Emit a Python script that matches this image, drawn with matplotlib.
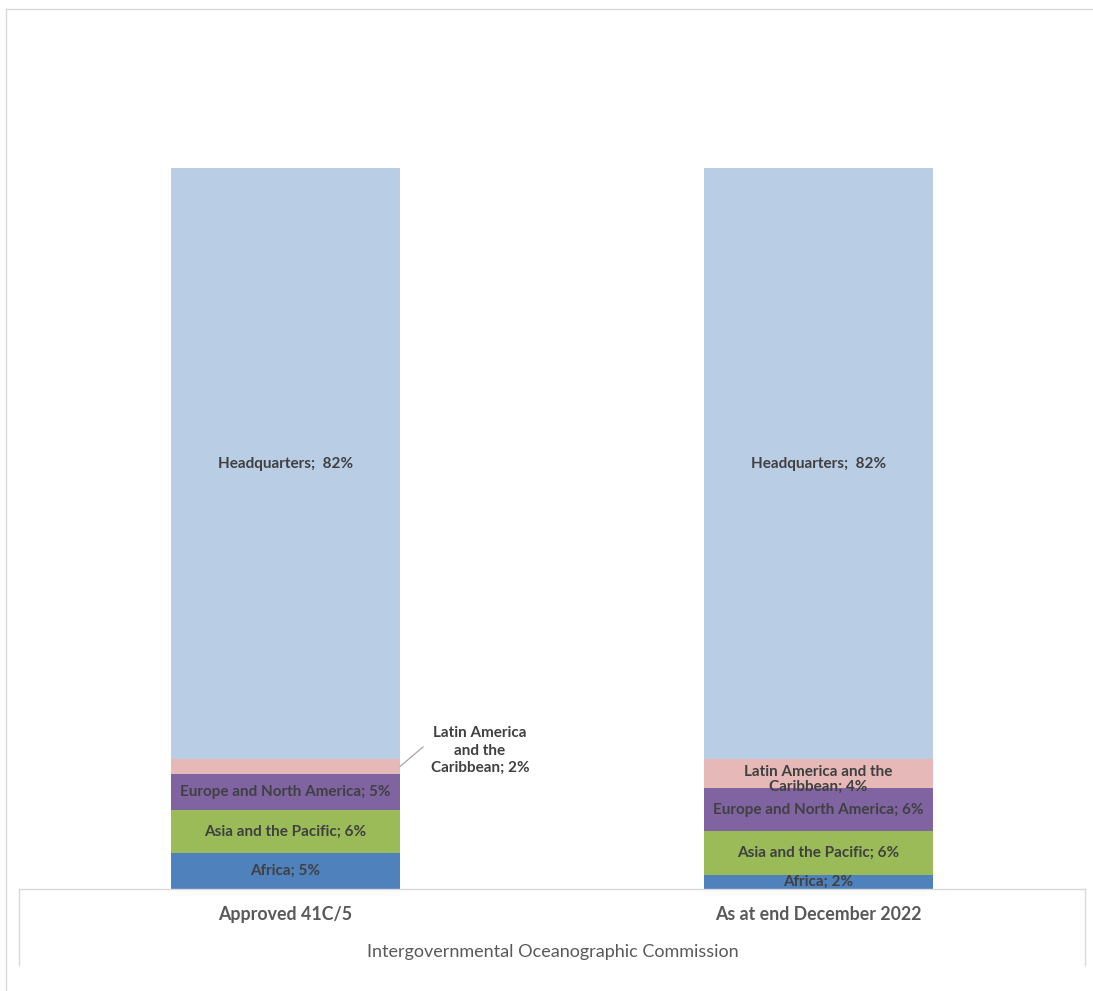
import numpy as np
import matplotlib.pyplot as plt
from matplotlib.lines import Line2D

# staff distribution by region, in percent
categories = ['Approved 41C/5', 'As at end December 2022']
regions = ['Africa', 'Asia and the Pacific', 'Europe and North America',
           'Latin America and the Caribbean', 'Headquarters']
africa = [5, 2]
asia_pacific = [6, 6]
europe_na = [5, 6]
latin_america = [2, 4]
headquarters = [82, 82]

colors = ['#4f81bd', '#9bbb59', '#8064a2', '#e6b9b8', '#b9cde5']
text_col = '#404040'

plt.rcParams['font.family'] = ['Lato', 'DejaVu Sans']

W, H = 1093, 991
fig = plt.figure(figsize=(W / 100, H / 100), dpi=100)
ax = fig.add_axes([19 / W, (H - 889) / H, (1085 - 19) / W, (889 - 168) / H])

x = np.arange(len(categories))
width = 0.43
series = [africa, asia_pacific, europe_na, latin_america, headquarters]
bottom = np.zeros(len(categories))
for name, vals, c in zip(regions, series, colors):
    vals = np.array(vals, dtype=float)
    ax.bar(x, vals, width, bottom=bottom, color=c, edgecolor='none', label=name)
    for i in range(len(categories)):
        y = bottom[i] + vals[i] / 2
        if name == 'Latin America and the Caribbean':
            if i == 0:
                # small slice: label sits outside with a leader line
                ax.text(x[i] + 0.365, y + 2.2, 'Latin America\nand the\nCaribbean; %d%%' % vals[i],
                        ha='center', va='center', fontsize=11, fontweight='bold',
                        color=text_col, linespacing=1.3)
                ax.plot([x[i] + width / 2, x[i] + 0.258], [y, y + 2.7],
                        color='#a6a6a6', lw=0.9, clip_on=False)
            else:
                ax.text(x[i], y - 0.8, 'Latin America and the\nCaribbean; %d%%' % vals[i],
                        ha='center', va='center', fontsize=11, fontweight='bold',
                        color=text_col, linespacing=1.1)
        else:
            label = '%s;  %d%%' if name == 'Headquarters' else '%s; %d%%'
            ax.text(x[i], y, label % (name, vals[i]),
                    ha='center', va='center', fontsize=11, fontweight='bold', color=text_col)
    bottom += vals

ax.set_xlim(-0.5, 1.5)
ax.set_ylim(0, 100)
ax.set_yticks([])
ax.set_xticks(x)
ax.set_xticklabels(categories, fontsize=12.8, fontweight='bold', color='#595959')
ax.tick_params(axis='x', length=0, pad=12)
for s in ['top', 'left', 'right']:
    ax.spines[s].set_visible(False)
ax.spines['bottom'].set_color('#d9d9d9')
ax.spines['bottom'].set_linewidth(1)

fig.text(553 / W, 1 - 952 / H, 'Intergovernmental Oceanographic Commission',
         ha='center', va='center', fontsize=13, color='#595959')

# box around the category axis and outer chart border
def fig_line(xs, ys, col):
    fig.add_artist(Line2D([v / W for v in xs], [1 - v / H for v in ys],
                          transform=fig.transFigure, color=col, lw=1))

fig_line([19, 19], [889, 965], '#d9d9d9')
fig_line([1085, 1085], [889, 965], '#d9d9d9')
fig_line([6, 6], [9, 991], '#d9d9d9')
fig_line([6, 1093], [9, 9], '#d9d9d9')

fig.savefig('out.png', dpi=100)
